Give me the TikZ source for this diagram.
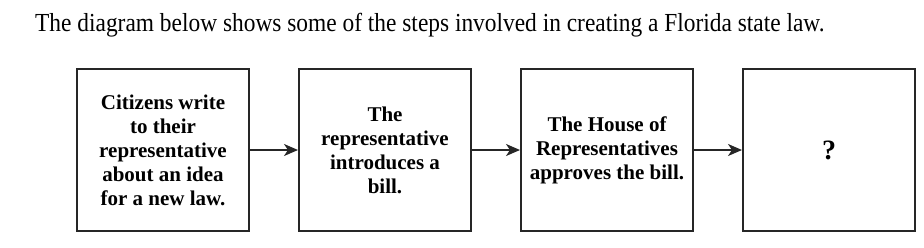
\documentclass[tikz,border=0pt]{standalone}
\usepackage{fontspec}
\setmainfont{Liberation Serif}
\usetikzlibrary{arrows.meta}
\begin{document}
\begin{tikzpicture}[x=1pt,y=-1pt,
  stepbox/.style={draw=black!85,line width=2pt,minimum width=172pt,minimum height=162pt,inner sep=0pt,align=center,font=\fontsize{21}{24}\selectfont\bfseries},
  flow/.style={line width=1.8pt,draw=black!85,-{Stealth[length=14pt,width=12pt,inset=4pt]}}]
\useasboundingbox (0,0) rectangle (924,247);
\node[anchor=base west,font=\fontsize{26}{30}\selectfont,inner sep=0pt] (title) at (35,31) {\scalebox{0.9}[1]{The diagram below shows some of the steps involved in creating a Florida state law.}};
\node[stepbox] (b1) at (163,150) {Citizens write\\to their\\representative\\about an idea\\for a new law.};
\node[stepbox] (b2) at (385,150) {The\\representative\\introduces a\\bill.};
\node[stepbox] (b3) at (607,150) {The House of\\Representatives\\approves the bill.};
\node[stepbox,font=\fontsize{28}{30}\selectfont\bfseries] (b4) at (829,150) {?};
\draw[flow] (b1) -- (b2);
\draw[flow] (b2) -- (b3);
\draw[flow] (b3) -- (b4);
\end{tikzpicture}
\end{document}
